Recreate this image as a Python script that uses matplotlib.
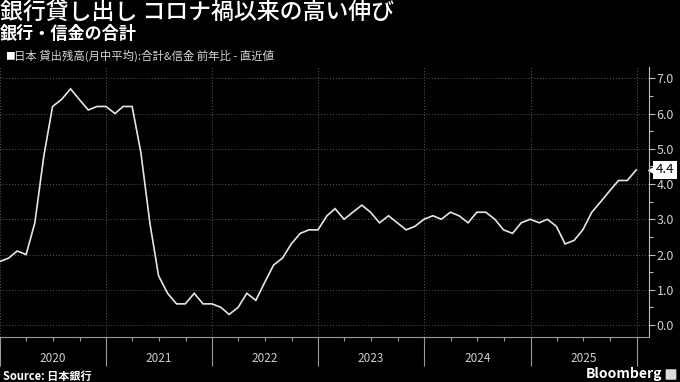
import matplotlib
matplotlib.use("Agg")
import matplotlib.pyplot as plt
import matplotlib.dates as mdates
import matplotlib.patches as mpatches
import pandas as pd

plt.rcParams['font.family'] = ['Noto Sans CJK JP', 'DejaVu Sans']

# month-end values, Dec 2019 .. Dec 2025 (y/y %)
months = pd.date_range("2019-12-31", "2025-12-31", freq="ME")
lending_yoy = [
    1.8, 1.9, 2.1, 2.0, 2.9, 4.8, 6.2, 6.4, 6.7, 6.4, 6.1, 6.2,
    6.2, 6.0, 6.2, 6.2, 4.9, 2.9, 1.4, 0.9, 0.6, 0.6, 0.9, 0.6,
    0.6, 0.5, 0.3, 0.5, 0.9, 0.7, 1.2, 1.7, 1.9, 2.3, 2.6, 2.7,
    2.7, 3.1, 3.3, 3.0, 3.2, 3.4, 3.2, 2.9, 3.1, 2.9, 2.7, 2.8,
    3.0, 3.1, 3.0, 3.2, 3.1, 2.9, 3.2, 3.2, 3.0, 2.7, 2.6, 2.9,
    3.0, 2.9, 3.0, 2.8, 2.3, 2.4, 2.7, 3.2, 3.5, 3.8, 4.1, 4.1,
    4.4,
]
years = [2020, 2021, 2022, 2023, 2024, 2025]
yticks = [0, 1, 2, 3, 4, 5, 6, 7]

title = "銀行貸し出し コロナ禍以来の高い伸び"
subtitle = "銀行・信金の合計"
legend_txt = "日本 貸出残高(月中平均):合計&信金 前年比 - 直近値"
source_txt = "Source: 日本銀行"

bg = "black"
fg = "#e6e6e6"
grid_c = "#5a5a5a"

my_dpi = 100
fig = plt.figure(figsize=(680/my_dpi, 382/my_dpi), dpi=my_dpi, facecolor=bg)
ax = fig.add_axes([0.0, 45/382, 649/680, 270/382], facecolor=bg)

ax.plot(months, lending_yoy, color=fg, lw=1.2, solid_joinstyle='miter')

ax.set_xlim(pd.Timestamp("2020-01-01"), pd.Timestamp("2026-02-13"))
ax.set_ylim(-0.34, 7.32)

# y axis on the right
ax.yaxis.tick_right()
ax.set_yticks(yticks)
ax.set_yticks([v + 0.5 for v in yticks[:-1]], minor=True)
ax.yaxis.set_major_formatter(plt.FuncFormatter(lambda v, p: "%.1f" % v))
ax.tick_params(axis='y', which='major', colors="#bdbdbd", length=4, width=0.8,
               labelsize=9, pad=1.5, labelcolor="#cfcfcf")
ax.tick_params(axis='y', which='minor', colors="#bdbdbd", length=3, width=0.8)

# x axis: long year separators, small quarter ticks
ax.xaxis.set_major_locator(mdates.YearLocator())
ax.xaxis.set_minor_locator(mdates.MonthLocator(bymonth=[4, 7, 10]))
ax.xaxis.set_major_formatter(plt.NullFormatter())
ax.tick_params(axis='x', which='major', colors="#9a9a9a", length=21, width=0.8)
ax.tick_params(axis='x', which='minor', colors="#9a9a9a", length=3, width=0.8)

for y in years:
    ax.text(pd.Timestamp("%d-07-02" % y), -0.08, str(y), transform=ax.get_xaxis_transform(),
            ha='center', va='center', color="#cfcfcf", fontsize=8.5)

ax.grid(True, which='major', color=grid_c, linestyle=(0, (1, 2)), lw=0.7)

for s in ['top', 'left']:
    ax.spines[s].set_visible(False)
ax.spines['right'].set_color("#bdbdbd")
ax.spines['bottom'].set_color("#9a9a9a")

# last value tag
last = lending_yoy[-1]
ax.annotate("%.1f" % last, xy=(1, last), xycoords=('axes fraction', 'data'),
            xytext=(5, 0), textcoords='offset points', ha='left', va='center',
            color='black', fontsize=9.5,
            bbox=dict(boxstyle='square,pad=0.2', fc='white', ec='none'))
ax.plot([1.005], [last], marker='<', ms=6, color='white', mec='white',
        transform=ax.get_yaxis_transform(), clip_on=False)

# header
fig.text(0.0, 1 - 12/382, title, color='white', fontsize=16.5, fontweight='medium', va='center')
fig.text(0.0, 1 - 34/382, subtitle, color='white', fontsize=12.3, fontweight='bold', va='center')
fig.text(5/680, 1 - 56/382, "■", color='white', fontsize=7, va='center')
fig.text(14/680, 1 - 56/382, legend_txt, color="#d8d8d8", fontsize=8.2, va='center')

# footer
fig.text(3/680, 1 - 376/382, source_txt, color='white', fontsize=8, fontweight='bold', va='center')
fig.text(662/680, 1 - 374/382, "Bloomberg", color='white', fontsize=10, fontweight='bold',
         va='center', ha='right')
fig.patches.append(mpatches.FancyBboxPatch((667/680, 1 - 379/382), 8/680, 9/382,
                                           boxstyle='round,pad=0.002', fc='#dddddd',
                                           ec='none', transform=fig.transFigure))

fig.savefig("out.png", dpi=my_dpi, facecolor=bg)
